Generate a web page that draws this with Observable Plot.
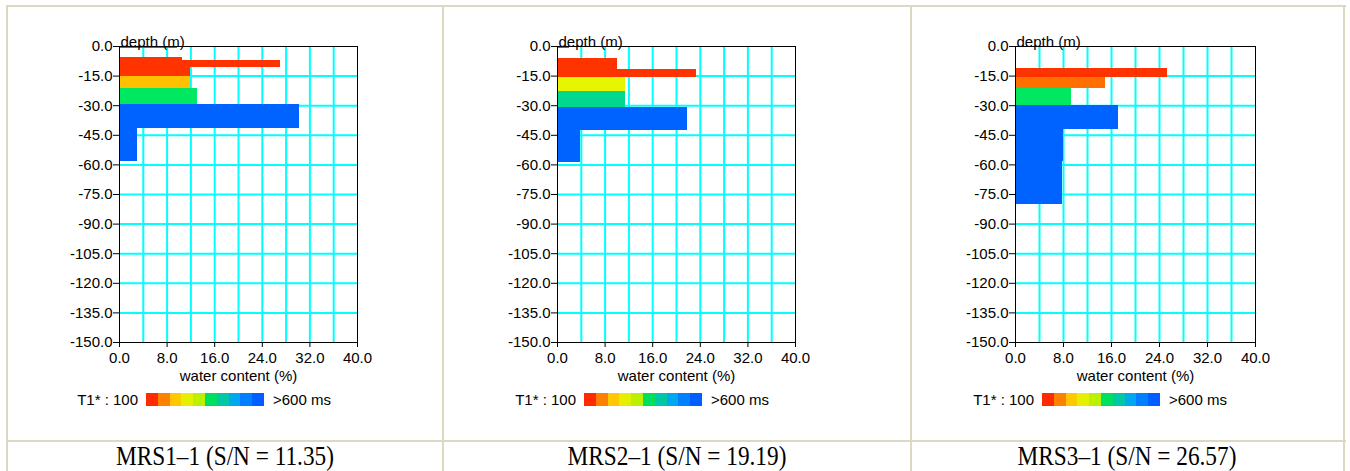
<!DOCTYPE html>
<html><head><meta charset="utf-8">
<script src="https://cdn.jsdelivr.net/npm/d3@7"></script>
<script src="https://cdn.jsdelivr.net/npm/@observablehq/plot@0.6"></script>
<style>
html,body{margin:0;padding:0;background:#fff}
body{width:1350px;height:471px;overflow:hidden;position:relative;font-family:"Liberation Sans",Arial,sans-serif;color:#000}
.bl{position:absolute;background:#ddd8c2}
.panel{position:absolute;top:6px}
.caption{position:absolute;top:442px;height:29px;line-height:29px;font-family:"Liberation Serif","Times New Roman",serif;font-size:24px;text-align:center;white-space:nowrap;transform:scale(0.97,1.12);transform-origin:50% 50%}
.leg{position:absolute;top:392px;height:15px;font-size:15px;line-height:15px;white-space:nowrap}
.sw{position:absolute;top:1px;height:13px}
</style></head>
<body>
<script>
// ---- data ----
const panelNames = ["MRS1\u20131 (S/N = 11.35)", "MRS2\u20131 (S/N = 19.19)", "MRS3\u20131 (S/N = 26.57)"];
const xTicks = [0, 8, 16, 24, 32, 40];
const yTicks = [0, -15, -30, -45, -60, -75, -90, -105, -120, -135, -150];
const gridX = [4, 8, 12, 16, 20, 24, 28, 32, 36];
const gridY = [-15, -30, -45, -60, -75, -90, -105, -120, -135];
// layers: top depth (m), bottom depth (m), water content (%), colour
const layers1Top =    [0,   5.4,  7.1,  10.8, 15.0, 21.3, 29.6, 41.6];
const layers1Bottom = [0.8, 7.1,  10.8, 15.0, 21.3, 29.6, 41.6, 58.1];
const layers1Water =  [9.7, 10.6, 27.1, 11.9, 11.9, 13.1, 30.2, 3.1];
const layers1Color =  ["#ff3300","#ff3300","#ff3300","#ff3300","#ffc000","#00e860","#0062ff","#0062ff"];
const layers2Top =    [0,   6.2,  11.7, 15.9, 22.6, 30.7, 42.6];
const layers2Bottom = [1.0, 11.7, 15.9, 22.6, 30.7, 42.6, 58.8];
const layers2Water =  [2.1, 10.1, 23.3, 11.5, 11.5, 21.9, 3.9];
const layers2Color =  ["#ff3300","#ff3300","#ff3300","#e8f500","#00d890","#0062ff","#0062ff"];
const layers3Top =    [11.3, 15.5, 21.5, 29.9, 42.1, 58.3];
const layers3Bottom = [15.5, 21.5, 29.9, 42.1, 58.3, 80.1];
const layers3Water =  [25.3, 15.0, 9.4,  17.1, 8.0,  7.8];
const layers3Color =  ["#ff3300","#ff7000","#00e860","#0062ff","#0062ff","#0062ff"];
const legendColors = ["#ff2a00","#ff8000","#ffc800","#e4f000","#bcf000","#00e060","#00c8a4","#00a8f0","#0080ff","#0060ff"];
const legendLeft = "T1* : 100";
const legendRight = ">600 ms";
const xLabel = "water content (%)";
const yLabel = "depth (m)";

// ---- layout ----
const origins = [119, 557, 1015];
const plotWidths = [238, 238, 240];
const colCenters = [225, 677, 1127];

const root = document.body;
function line(l, t, w, h) {
  const d = document.createElement("div");
  d.className = "bl";
  Object.assign(d.style, {left: l + "px", top: t + "px", width: w + "px", height: h + "px"});
  root.appendChild(d);
}
line(6, 5, 1340, 2);
line(6, 5, 2, 466);
line(442, 5, 2, 466);
line(910, 5, 2, 466);
line(1343, 5, 2, 466);
line(6, 440, 1340, 2);

const allLayers = [
  [layers1Top, layers1Bottom, layers1Water, layers1Color],
  [layers2Top, layers2Bottom, layers2Water, layers2Color],
  [layers3Top, layers3Bottom, layers3Water, layers3Color]
];

allLayers.forEach(([tops, bottoms, water, colors], i) => {
  const data = tops.map((t, j) => ({top: t, bottom: bottoms[j], w: water[j], c: colors[j]}));
  const mL = 112, mR = 40, mT = 40, mB = 48;
  const pw = plotWidths[i];
  const chart = Plot.plot({
    width: mL + pw + mR,
    height: mT + 296 + mB,
    marginLeft: mL, marginRight: mR, marginTop: mT, marginBottom: mB,
    style: {fontFamily: "Liberation Sans, Arial, sans-serif", fontSize: "15px", color: "#000", background: "transparent"},
    x: {domain: [0, 40], ticks: xTicks, tickFormat: d => d.toFixed(1), tickSize: 5, tickPadding: 5, label: null},
    y: {domain: [-150, 0], ticks: yTicks, tickFormat: d => d.toFixed(1), tickSize: 6, tickPadding: 1, label: null},
    color: {type: "identity"},
    marks: [
      Plot.ruleX(gridX, {stroke: "#00ffff", strokeWidth: 2}),
      Plot.ruleY(gridY, {stroke: "#00ffff", strokeWidth: 2}),
      Plot.rect(data, {x1: d => 0, x2: "w", y1: d => -d.top, y2: d => -d.bottom, fill: "c", shapeRendering: "crispEdges"}),
      Plot.frame({stroke: "#000", strokeWidth: 1}),
      Plot.text([yLabel], {frameAnchor: "top-left", dy: -10, dx: 1, textAnchor: "start", fontSize: 15}),
      Plot.text([xLabel], {frameAnchor: "bottom", dy: 38, fontSize: 15})
    ]
  });
  chart.classList.add("panel");
  chart.style.left = (origins[i] - mL) + "px";
  root.appendChild(chart);

  // legend
  const ox = origins[i];
  const t1 = document.createElement("div");
  t1.className = "leg";
  t1.textContent = legendLeft;
  t1.style.left = (ox - 42) + "px";
  t1.style.width = "61px";
  t1.style.textAlign = "right";
  root.appendChild(t1);
  const swW = 11.8;
  legendColors.forEach((c, k) => {
    const s = document.createElement("div");
    s.className = "leg sw";
    s.style.top = "393px";
    s.style.left = (ox + 27 + k * swW) + "px";
    s.style.width = (swW + 0.2) + "px";
    s.style.background = c;
    root.appendChild(s);
  });
  const t2 = document.createElement("div");
  t2.className = "leg";
  t2.textContent = legendRight;
  t2.style.left = (ox + 154) + "px";
  root.appendChild(t2);

  const cap = document.createElement("div");
  cap.className = "caption";
  cap.textContent = panelNames[i];
  cap.style.left = (colCenters[i] - 150) + "px";
  cap.style.width = "300px";
  root.appendChild(cap);
});
</script>
</body></html>
